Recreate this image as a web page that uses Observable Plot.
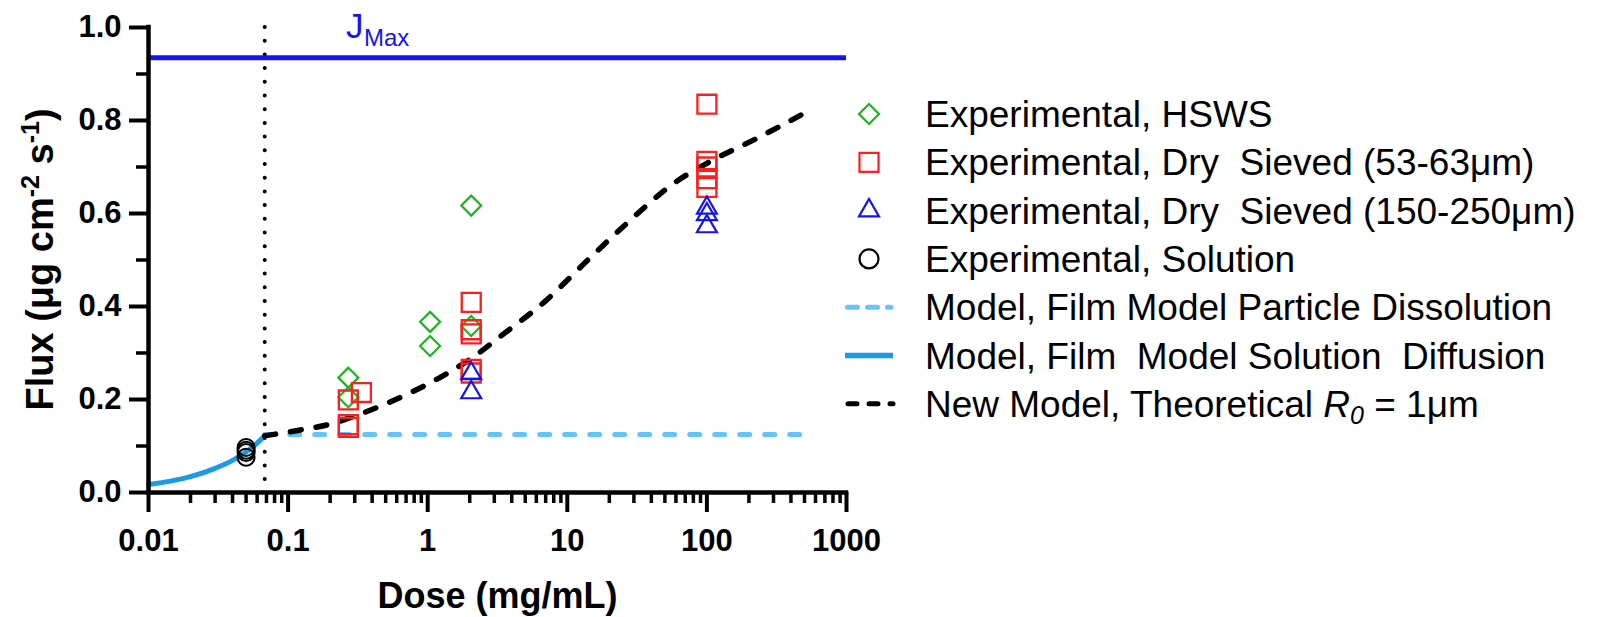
<!DOCTYPE html>
<html><head><meta charset="utf-8">
<script src="https://cdn.jsdelivr.net/npm/d3@7"></script>
<script src="https://cdn.jsdelivr.net/npm/@observablehq/plot@0.6"></script>
<style>
body{margin:0;background:#fff;}
#wrap{position:relative;width:1598px;height:617px;overflow:hidden;}
</style></head><body><div id="wrap"></div>
<script>
// ---- axis ticks ----
const xTicks = [0.01, 0.1, 1, 10, 100, 1000];
const xTickLabels = ["0.01", "0.1", "1", "10", "100", "1000"];
const xMinorTicks = [0.02,0.03,0.04,0.05,0.06,0.07,0.08,0.09,
  0.2,0.3,0.4,0.5,0.6,0.7,0.8,0.9, 2,3,4,5,6,7,8,9,
  20,30,40,50,60,70,80,90, 200,300,400,500,600,700,800,900];
const yTicks = [0, 0.2, 0.4, 0.6, 0.8, 1.0];
const yTickLabels = ["0.0", "0.2", "0.4", "0.6", "0.8", "1.0"];
const yMinorTicks = [0.1, 0.3, 0.5, 0.7, 0.9];

// ---- experimental data ----
const hswsDose = [0.27, 0.27, 1.04, 1.04, 2.05, 2.05];
const hswsFlux = [0.247, 0.205, 0.367, 0.315, 0.358, 0.617];
const dry5363Dose = [0.27, 0.27, 0.27, 0.335, 2.05, 2.05, 2.05, 2.05, 2.05, 100, 100, 100, 100, 100];
const dry5363Flux = [0.199, 0.146, 0.140, 0.215, 0.409, 0.350, 0.341, 0.265, 0.257, 0.835, 0.712, 0.700, 0.675, 0.656];
const dry150Dose = [2.05, 2.05, 100, 100, 100];
const dry150Flux = [0.256, 0.215, 0.612, 0.598, 0.572];
const solutionDose = [0.05, 0.05, 0.05, 0.05];
const solutionFlux = [0.097, 0.091, 0.086, 0.076];

// ---- model curves ----
const filmSolDose = [0.01, 0.02, 0.03, 0.04, 0.05, 0.06, 0.068];
const filmSolFlux = [0.017, 0.034, 0.052, 0.069, 0.087, 0.106, 0.122];
const filmPartDose = [0.068, 530];
const filmPartFlux = [0.125, 0.125];
const newModelDose = [0.068, 0.12, 0.2, 0.33, 0.6, 1.17, 2.02, 3.5, 6.8, 14.6, 25, 60, 100, 240, 530];
const newModelFlux = [0.122, 0.134, 0.147, 0.169, 0.201, 0.244, 0.287, 0.341, 0.409, 0.505, 0.571, 0.668, 0.708, 0.765, 0.82];
const solubilityDose = [0.068];
const jmaxFlux = [0.935];
const jmaxLabelDose = [0.26];

// ---- legend ----
const legendLabels = [
  "Experimental, HSWS",
  "Experimental, Dry  Sieved (53-63μm)",
  "Experimental, Dry  Sieved (150-250μm)",
  "Experimental, Solution",
  "Model, Film Model Particle Dissolution",
  "Model, Film  Model Solution  Diffusion",
  "New Model, Theoretical "
];

const green = "#1fb41f", red = "#ff1e1e", blue = "#1414f0", azure = "#1a9be6", lightBlue = "#66c3f5";
const font = "'Liberation Sans', Arial, sans-serif";

const plot = Plot.plot({
  width: 1598, height: 617,
  marginLeft: 148, marginRight: 752, marginTop: 27, marginBottom: 125,
  x: {type: "log", domain: [0.01, 1000]},
  y: {domain: [0, 1]},
  style: {fontFamily: font, background: "white", color: "black"},
  marks: [
    Plot.line(filmSolDose, {x: filmSolDose, y: filmSolFlux, stroke: azure, strokeWidth: 5, curve: "monotone-x"}),
    Plot.line(filmPartDose, {x: filmPartDose, y: filmPartFlux, stroke: lightBlue, strokeWidth: 5, strokeDasharray: "10,15", strokeLinecap: "round"}),
    Plot.line(newModelDose, {x: newModelDose, y: newModelFlux, stroke: "black", strokeWidth: 5.5, strokeDasharray: "11,15", strokeLinecap: "round", curve: "monotone-x"}),
    Plot.ruleX(solubilityDose, {stroke: "black", strokeWidth: 4, strokeDasharray: "0,13.7", strokeLinecap: "round"}),
    Plot.ruleY(jmaxFlux, {stroke: blue, strokeWidth: 5}),
    Plot.text(jmaxLabelDose, {x: jmaxLabelDose, y: jmaxFlux, text: ["J"], dy: -20, lineAnchor: "bottom", textAnchor: "start", fontSize: 35, fill: blue}),
    Plot.text(jmaxLabelDose, {x: jmaxLabelDose, y: jmaxFlux, text: ["Max"], dx: 18, dy: -11.5, lineAnchor: "bottom", textAnchor: "start", fontSize: 24, fill: blue}),
    Plot.dot(solutionDose, {x: solutionDose, y: solutionFlux, symbol: "circle", r: 8.5, stroke: "black", strokeWidth: 2, fill: "none"}),
    Plot.dot(hswsDose, {x: hswsDose, y: hswsFlux, symbol: "diamond2", r: 9, stroke: green, strokeWidth: 2.2, fill: "none"}),
    Plot.dot(dry5363Dose, {x: dry5363Dose, y: dry5363Flux, symbol: "square", r: 10.7, stroke: red, strokeWidth: 2.3, fill: "none"}),
    Plot.dot(dry150Dose, {x: dry150Dose, y: dry150Flux, symbol: "triangle2", r: 9.5, stroke: blue, strokeWidth: 2.2, fill: "none"}),
    Plot.axisX(xMinorTicks, {tickSize: 11, strokeWidth: 3.5, tickFormat: () => "", label: null}),
    Plot.axisX(xTicks, {tickSize: 20, strokeWidth: 4, tickPadding: 16, fontSize: 31, fontWeight: "bold",
      tickFormat: d => xTickLabels[xTicks.indexOf(d)], label: null}),
    Plot.axisY(yMinorTicks, {tickSize: 12, strokeWidth: 3.5, tickFormat: () => "", label: null}),
    Plot.axisY(yTicks, {tickSize: 19, strokeWidth: 4, tickPadding: 8, fontSize: 31, fontWeight: "bold",
      tickFormat: d => yTickLabels[yTicks.indexOf(d)], label: null}),
    Plot.ruleY([0], {stroke: "black", strokeWidth: 4.5, strokeLinecap: "square"}),
    Plot.ruleX([0.01], {stroke: "black", strokeWidth: 4.5, strokeLinecap: "square"}),
    Plot.text(["Dose (mg/mL)"], {frameAnchor: "bottom", dy: 115, lineAnchor: "bottom", fontSize: 36, fontWeight: "bold", fill: "black"})
  ]
});
document.getElementById("wrap").appendChild(plot);

const svg = d3.select(plot);
// y-axis title with superscripts
const yt = svg.append("text")
  .attr("transform", "translate(53,259.5) rotate(-90)")
  .attr("text-anchor", "middle").attr("font-family", font)
  .attr("font-size", 38).attr("font-weight", "bold").attr("fill", "black");
yt.append("tspan").text("Flux (μg cm");
yt.append("tspan").attr("dy", -14).attr("font-size", 25).text("-2");
yt.append("tspan").attr("dy", 14).text(" s");
yt.append("tspan").attr("dy", -14).attr("font-size", 25).text("-1");
yt.append("tspan").attr("dy", 14).text(")");

// legend
const lg = svg.append("g").attr("font-family", font).attr("font-size", 37)
  .attr("fill", "black").attr("text-anchor", "start");
const rowY = i => 114 + i * 48.3;
const symbolRows = [
  {type: d3.symbolDiamond2, size: 255, color: green},
  {type: d3.symbolSquare, size: 361, color: red},
  {type: d3.symbolTriangle2, size: 286, color: blue},
  {type: d3.symbolCircle, size: Math.PI * 9.5 * 9.5, color: "black"}
];
symbolRows.forEach((s, i) => {
  lg.append("path").attr("d", d3.symbol(s.type, s.size)())
    .attr("transform", `translate(869,${rowY(i)})`)
    .attr("fill", "none").attr("stroke", s.color).attr("stroke-width", 2.2);
});
lg.append("line").attr("x1", 847.5).attr("x2", 891).attr("y1", rowY(4)).attr("y2", rowY(4))
  .attr("stroke", lightBlue).attr("stroke-width", 5).attr("stroke-dasharray", "10,10").attr("stroke-linecap", "round");
lg.append("line").attr("x1", 845).attr("x2", 893).attr("y1", rowY(5)).attr("y2", rowY(5))
  .attr("stroke", azure).attr("stroke-width", 5.5);
lg.append("line").attr("x1", 848).attr("x2", 893).attr("y1", rowY(6)).attr("y2", rowY(6))
  .attr("stroke", "black").attr("stroke-width", 5).attr("stroke-dasharray", "9,12").attr("stroke-linecap", "round");
legendLabels.forEach((t, i) => {
  const tx = lg.append("text").attr("x", 925).attr("y", rowY(i) + 13)
    .style("white-space", "pre").text(t);
  if (i === 6) {
    tx.append("tspan").attr("font-style", "italic").text("R");
    tx.append("tspan").attr("font-style", "italic").attr("font-size", 25).attr("dy", 7).text("0");
    tx.append("tspan").attr("dy", -7).text(" = 1μm");
  }
});
</script></body></html>
